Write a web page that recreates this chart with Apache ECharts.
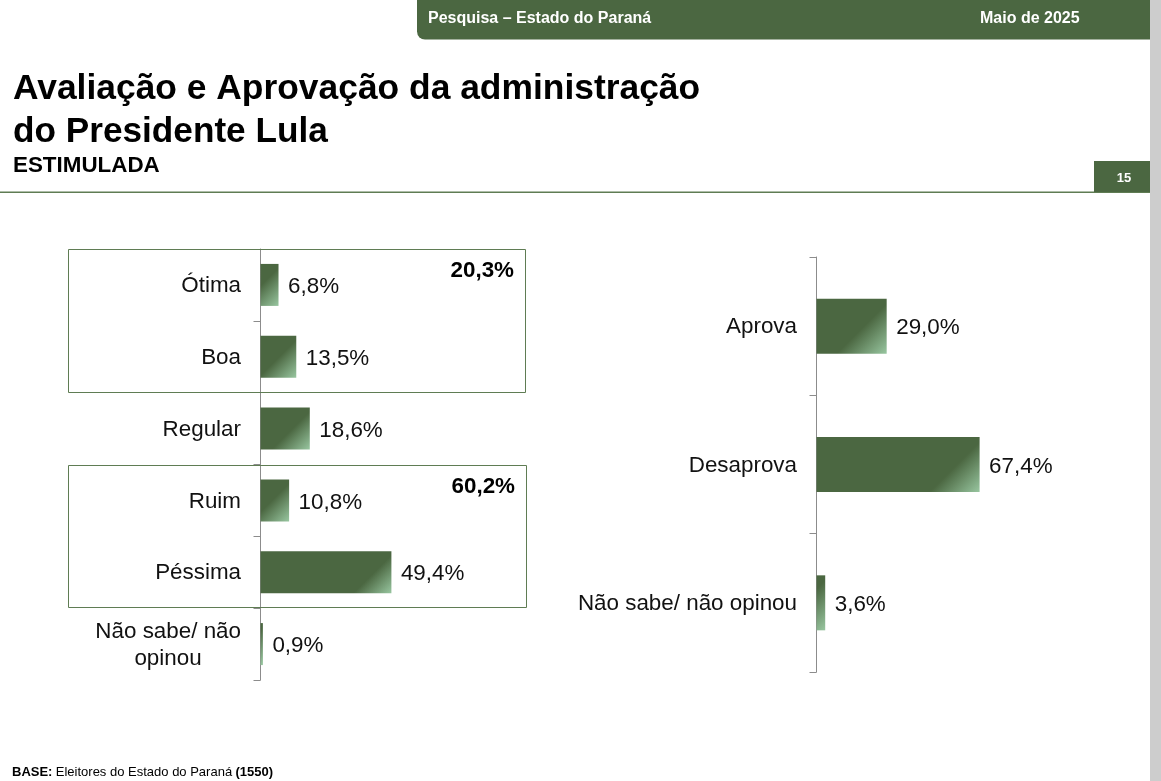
<!DOCTYPE html>
<html>
<head>
<meta charset="utf-8">
<title>Avaliação e Aprovação</title>
<script src="https://cdn.jsdelivr.net/npm/echarts@6/dist/echarts.min.js"></script>
<style>
html, body { margin: 0; padding: 0; background: #fff; overflow: hidden; }
#main { width: 1161px; height: 781px; }
</style>
</head>
<body>
<div id="main"></div>
<script>
var avalNames = ['Ótima', 'Boa', 'Regular', 'Ruim', 'Péssima', 'Não sabe/ não opinou'];
var avalValues = [6.8, 13.5, 18.6, 10.8, 49.4, 0.9];
var aprovNames = ['Aprova', 'Desaprova', 'Não sabe/ não opinou'];
var aprovValues = [29.0, 67.4, 3.6];
var totalPositivo = '20,3%';
var totalNegativo = '60,2%';

var green = '#4b6741';
var lineGreen = '#5f7c53';
var font = '"Liberation Sans", Arial, sans-serif';
var labelSize = 22.4;

// brilho a 45 graus no canto inferior direito, como no original
function barFill(value, pxPerUnit, h, s) {
    var w = Math.max(value * pxPerUnit, 1);
    return {
        type: 'linear',
        x: 1 - s / (2 * w), y: 1 - s / (2 * h), x2: 1, y2: 1,
        colorStops: [
            { offset: 0, color: '#4b6741' },
            { offset: 1, color: '#98c6a0' }
        ]
    };
}

function pct(p) {
    return p.value.toFixed(1).replace('.', ',') + '%';
}

function catAxis(names, gridIndex, wrap) {
    return {
        type: 'category',
        gridIndex: gridIndex,
        inverse: true,
        data: names,
        axisLine: { lineStyle: { color: '#8c8c8c', width: 1 } },
        axisTick: { show: true, length: 7, lineStyle: { color: '#8c8c8c', width: 1 } },
        axisLabel: {
            margin: 19.5,
            fontFamily: font,
            fontSize: labelSize,
            color: '#111',
            interval: 0,
            padding: [2, 0, 0, 0],
            formatter: function (v) {
                if (wrap && v.indexOf('Não sabe') === 0) {
                    return '{a|Não sabe/ não}\n{b|opinou}';
                }
                return v;
            },
            rich: {
                a: { fontFamily: font, fontSize: labelSize, color: '#111', lineHeight: 27 },
                b: { fontFamily: font, fontSize: labelSize, color: '#111', lineHeight: 27, width: 146, align: 'center' }
            }
        }
    };
}

function barSeries(values, axisIndex, h, pxPerUnit, s) {
    return {
        type: 'bar',
        xAxisIndex: axisIndex,
        yAxisIndex: axisIndex,
        data: values.map(function (v) {
            return { value: v, itemStyle: { color: barFill(v, pxPerUnit, h, s) } };
        }),
        barWidth: h,
        label: {
            show: true,
            position: 'right',
            distance: 9.5,
            offset: [0, 2],
            fontFamily: font,
            fontSize: labelSize,
            color: '#111',
            formatter: pct
        },
        silent: true
    };
}

var myChart = echarts.init(document.getElementById('main'), null, { renderer: 'canvas' });
myChart.setOption({
    animation: false,
    backgroundColor: '#fff',
    grid: [
        { left: 260.5, top: 249, width: 265, height: 431 },
        { left: 816.5, top: 257, width: 242, height: 415 }
    ],
    xAxis: [
        { type: 'value', gridIndex: 0, min: 0, max: 100, show: false },
        { type: 'value', gridIndex: 1, min: 0, max: 100, show: false }
    ],
    yAxis: [catAxis(avalNames, 0, true), catAxis(aprovNames, 1, false)],
    series: [barSeries(avalValues, 0, 42, 2.65, 38), barSeries(aprovValues, 1, 55, 2.42, 50)],
    graphic: [
        // cabeçalho
        { type: 'rect', shape: { x: 417, y: 0, width: 733, height: 39.5, r: [0, 0, 0, 8] }, style: { fill: green } },
        { type: 'text', x: 428, y: 18.5, style: { text: 'Pesquisa – Estado do Paraná', fill: '#fff', font: 'bold 16px ' + font, verticalAlign: 'middle' } },
        { type: 'text', x: 980, y: 18.5, style: { text: 'Maio de 2025', fill: '#fff', font: 'bold 16px ' + font, verticalAlign: 'middle' } },
        // título
        { type: 'text', x: 13, y: 89, style: { text: 'Avaliação e Aprovação da administração', fill: '#000', font: 'bold 35.4px ' + font, verticalAlign: 'middle' } },
        { type: 'text', x: 13, y: 132, style: { text: 'do Presidente Lula', fill: '#000', font: 'bold 35.2px ' + font, verticalAlign: 'middle' } },
        { type: 'text', x: 13, y: 166, style: { text: 'ESTIMULADA', fill: '#000', font: 'bold 22.4px ' + font, verticalAlign: 'middle' } },
        { type: 'rect', shape: { x: 0, y: 191.5, width: 1150, height: 1.5 }, style: { fill: lineGreen } },
        { type: 'rect', shape: { x: 1094, y: 161, width: 56, height: 31 }, style: { fill: green } },
        { type: 'text', x: 1124, y: 178, style: { text: '15', fill: '#fff', font: 'bold 13px ' + font, align: 'center', verticalAlign: 'middle' } },
        // barra lateral
        { type: 'rect', shape: { x: 1150, y: 0, width: 11, height: 781 }, style: { fill: '#cdcdcd' } },
        // caixas dos totais
        { type: 'rect', z: 5, shape: { x: 68.5, y: 249.5, width: 457, height: 143 }, style: { fill: 'none', stroke: lineGreen, lineWidth: 1 } },
        { type: 'rect', z: 5, shape: { x: 68.5, y: 465.5, width: 458, height: 142 }, style: { fill: 'none', stroke: lineGreen, lineWidth: 1 } },
        { type: 'text', z: 6, x: 514, y: 270.5, style: { text: totalPositivo, fill: '#000', font: 'bold 22.4px ' + font, align: 'right', verticalAlign: 'middle' } },
        { type: 'text', z: 6, x: 515, y: 486.5, style: { text: totalNegativo, fill: '#000', font: 'bold 22.4px ' + font, align: 'right', verticalAlign: 'middle' } },
        // rodapé
        {
            type: 'text', x: 12, y: 772,
            style: {
                text: '{b|BASE:} {n|Eleitores do Estado do Paraná} {b|(1550)}',
                verticalAlign: 'middle',
                rich: {
                    b: { font: 'bold 13px ' + font, fill: '#000' },
                    n: { font: '13px ' + font, fill: '#000' }
                }
            }
        }
    ]
});
</script>
</body>
</html>
